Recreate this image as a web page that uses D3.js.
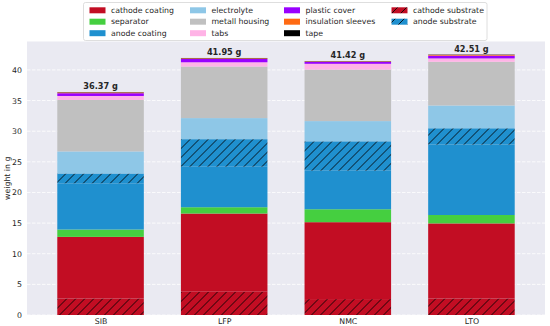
<!DOCTYPE html>
<html>
<head>
<meta charset="utf-8">
<script src="https://cdn.jsdelivr.net/npm/d3@7"></script>
<style>
  body { margin: 0; background: #fff; }
  text { font-family: "DejaVu Sans", sans-serif; fill: #262626; }
</style>
</head>
<body>
<div id="chart"></div>
<script>
// cell types and weights (g) per component, bottom to top of each stack
var cells = ["SIB", "LFP", "NMC", "LTO"];

var cathodeSubstrate  = [2.70, 3.80, 2.60, 2.70];
var cathodeCoating    = [10.05, 12.76, 12.55, 12.25];
var separator         = [1.20, 1.03, 2.11, 1.37];
var anodeCoating      = [7.55, 6.61, 6.29, 11.48];
var anodeSubstrate    = [1.60, 4.50, 4.80, 2.68];
var electrolyte       = [3.60, 3.44, 3.30, 3.72];
var metallHousing     = [8.40, 8.41, 8.41, 7.13];
var tabs              = [0.65, 0.70, 0.94, 0.55];
var plasticCover      = [0.45, 0.55, 0.30, 0.45];
var insulationSleeves = [0.12, 0.10, 0.07, 0.13];
var tape              = [0.05, 0.05, 0.05, 0.05];

var yTicks = [0, 5, 10, 15, 20, 25, 30, 35, 40];

// stack order (bottom -> top)
var layers = [
    { name: "cathode substrate", values: cathodeSubstrate, color: "#c20d23", hatch: true },
    { name: "cathode coating", values: cathodeCoating, color: "#c20d23" },
    { name: "separator", values: separator, color: "#45cf40" },
    { name: "anode coating", values: anodeCoating, color: "#1f90cf" },
    { name: "anode substrate", values: anodeSubstrate, color: "#1f90cf", hatch: true },
    { name: "electrolyte", values: electrolyte, color: "#8ec7e7" },
    { name: "metall housing", values: metallHousing, color: "#c0c0c0" },
    { name: "tabs", values: tabs, color: "#ffb3e6" },
    { name: "plastic cover", values: plasticCover, color: "#9900ff" },
    { name: "insulation sleeves", values: insulationSleeves, color: "#ff6a13" },
    { name: "tape", values: tape, color: "#000000" }
];

// legend order (column-major, 3 rows)
var legendOrder = ["cathode coating", "separator", "anode coating",
    "electrolyte", "metall housing", "tabs",
    "plastic cover", "insulation sleeves", "tape",
    "cathode substrate", "anode substrate"];

var W = 550, H = 326;
var margin = { top: 41.5, right: 5, bottom: 11, left: 27 },
    width = W - margin.left - margin.right,
    height = H - margin.top - margin.bottom;

var svg = d3.select("#chart").append("svg")
    .attr("width", W)
    .attr("height", H);

var defs = svg.append("defs");
layers.filter(function (l) { return l.hatch; }).forEach(function (l, i) {
    var s = 9;
    var p = defs.append("pattern")
        .attr("id", "hatch" + i)
        .attr("patternUnits", "userSpaceOnUse")
        .attr("width", s).attr("height", s);
    p.append("rect").attr("width", s).attr("height", s).attr("fill", l.color);
    p.append("path")
        .attr("d", "M0," + s + "L" + s + ",0M" + (-s / 2) + "," + (s / 2) + "L" + (s / 2) + "," + (-s / 2) +
            "M" + (s / 2) + "," + (s * 1.5) + "L" + (s * 1.5) + "," + (s / 2))
        .attr("stroke", "#000").attr("stroke-width", 0.85);
    l.fill = "url(#hatch" + i + ")";
});
layers.forEach(function (l) { if (!l.fill) l.fill = l.color; });

var g = svg.append("g")
    .attr("transform", "translate(" + margin.left + "," + margin.top + ")");

var x = d3.scaleLinear().domain([-0.595, 3.595]).range([0, width]);
var y = d3.scaleLinear().domain([0, 44.64]).range([height, 0]);
var barW = x(0.7) - x(0);

g.append("rect").attr("width", width).attr("height", height).attr("fill", "#eaeaf2");

// grid
g.selectAll(".grid").data(yTicks).enter().append("line")
    .attr("x1", 0).attr("x2", width)
    .attr("y1", function (d) { return y(d); })
    .attr("y2", function (d) { return y(d); })
    .attr("stroke", "#fff").attr("stroke-width", 0.8)
    .attr("stroke-dasharray", "3.5,1.5");

// stacked bars
var stack = cells.map(function () { return 0; });
layers.forEach(function (l) {
    var segs = cells.map(function (c, i) {
        var s = { i: i, y0: stack[i], y1: stack[i] + l.values[i] };
        stack[i] = s.y1;
        return s;
    });
    g.append("g").selectAll("rect").data(segs).enter().append("rect")
        .attr("x", function (d) { return x(d.i) - barW / 2; })
        .attr("width", barW)
        .attr("y", function (d) { return y(d.y1); })
        .attr("height", function (d) { return y(d.y0) - y(d.y1); })
        .attr("fill", l.fill);
});

// totals
g.selectAll(".total").data(cells).enter().append("text")
    .attr("x", function (d, i) { return x(i); })
    .attr("y", function (d, i) { return y(stack[i]) - 3; })
    .attr("text-anchor", "middle")
    .style("font-size", "8.2px").style("font-weight", "bold")
    .text(function (d, i) { return d3.format(".2f")(stack[i]) + " g"; });

// axes
var yAxis = d3.axisLeft(y).tickValues(yTicks).tickSize(0).tickPadding(5);
var xAxis = d3.axisBottom(x).tickValues(d3.range(cells.length))
    .tickFormat(function (i) { return cells[i]; }).tickSize(0).tickPadding(3);

g.append("g").call(yAxis)
    .call(function (a) { a.select(".domain").remove(); })
    .selectAll("text").style("font-size", "7.8px").attr("fill", "#262626");
g.append("g").attr("transform", "translate(0," + height + ")").call(xAxis)
    .call(function (a) { a.select(".domain").remove(); })
    .selectAll("text").style("font-size", "7.8px").attr("fill", "#262626");

svg.append("text")
    .attr("transform", "translate(7.5," + (margin.top + height / 2) + ") rotate(-90)")
    .attr("text-anchor", "middle")
    .attr("dy", "0.35em")
    .style("font-size", "7.8px")
    .text("weight in g");

// legend
var lg = svg.append("g");
lg.append("rect")
    .attr("x", 83.5).attr("y", 2.5).attr("width", 403.5).attr("height", 38)
    .attr("rx", 2).attr("fill", "#fff").attr("fill-opacity", 0.8)
    .attr("stroke", "#d6d6d6").attr("stroke-width", 0.8);
var colX = [89.5, 190, 284, 391.5];
var rowY = [10.3, 21.7, 33.2];
legendOrder.forEach(function (name, k) {
    var l = layers.find(function (d) { return d.name === name; });
    var cx = colX[Math.floor(k / 3)], cy = rowY[k % 3];
    lg.append("rect")
        .attr("x", cx).attr("y", cy - 3).attr("width", 16).attr("height", 6)
        .attr("fill", l.fill);
    lg.append("text")
        .attr("x", cx + 21.5).attr("y", cy).attr("dy", "0.35em")
        .style("font-size", "7.8px")
        .text(name);
});
</script>
</body>
</html>
